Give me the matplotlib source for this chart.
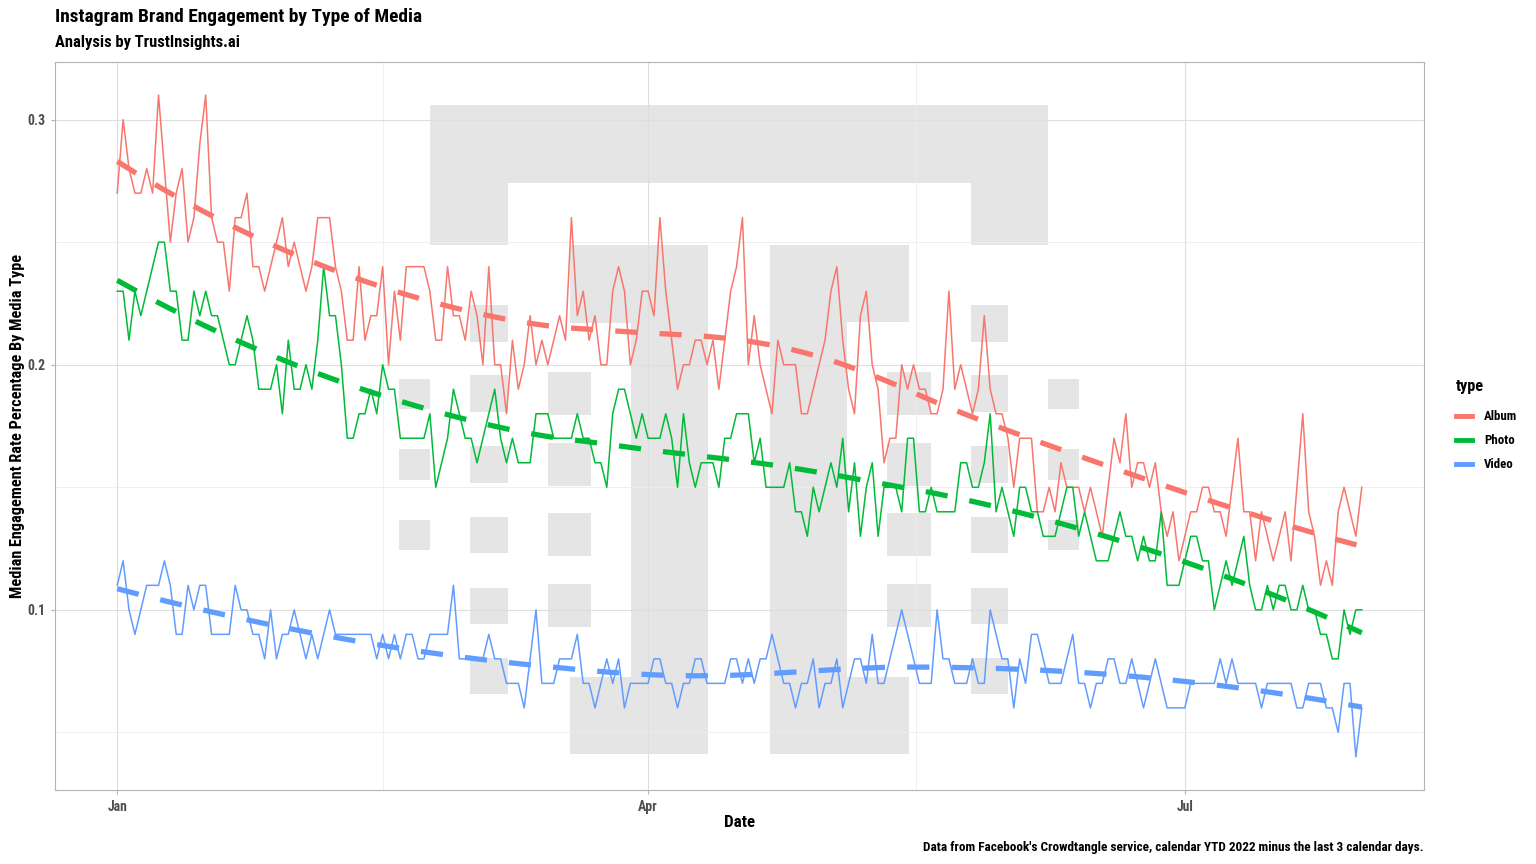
import numpy as np
import pandas as pd
import matplotlib
matplotlib.use('Agg')
import matplotlib.pyplot as plt
import matplotlib.dates as mdates
from matplotlib.lines import Line2D
from matplotlib.patches import Rectangle

plt.rcParams['font.family'] = ['Roboto Condensed', 'DejaVu Sans Condensed',
                               'Liberation Sans Narrow', 'Roboto', 'DejaVu Sans']

# daily medians, 2022-01-01 .. 2022-07-31
dates = pd.date_range('2022-01-01', '2022-07-31', freq='D')

album = [
    .27, .30, .28, .27, .27, .28, .27, .31, .28, .25, .27, .28, .25, .26, .29, .31, .26, .25, .25, .23,
    .26, .26, .27, .24, .24, .23, .24, .25, .26, .24, .25, .24, .23, .24, .26, .26, .26, .24, .23, .21,
    .21, .24, .21, .22, .22, .24, .20, .23, .21, .24, .24, .24, .24, .23, .21, .21, .24, .22, .22, .21,
    .23, .22, .20, .24, .20, .20, .18, .21, .19, .20, .22, .20, .21, .20, .21, .22, .21, .26, .22, .23,
    .21, .22, .20, .20, .23, .24, .23, .20, .21, .23, .23, .22, .26, .23, .21, .19, .20, .20, .21, .21,
    .20, .21, .19, .21, .23, .24, .26, .20, .22, .20, .19, .18, .21, .20, .20, .20, .18, .18, .19, .20,
    .21, .23, .24, .21, .19, .18, .22, .23, .20, .19, .16, .17, .17, .20, .19, .20, .19, .19, .18, .18,
    .19, .23, .19, .20, .19, .18, .19, .22, .19, .18, .18, .17, .15, .17, .17, .17, .14, .14, .15, .14,
    .16, .15, .15, .15, .14, .15, .14, .13, .15, .17, .16, .18, .15, .16, .16, .15, .16, .14, .13, .14,
    .12, .13, .14, .14, .15, .15, .14, .14, .13, .15, .17, .14, .14, .12, .14, .13, .12, .13, .14, .12,
    .15, .18, .14, .13, .11, .12, .11, .14, .15, .14, .13, .15,
]

photo = [
    .23, .23, .21, .23, .22, .23, .24, .25, .25, .23, .23, .21, .21, .23, .22, .23, .22, .22, .21, .20,
    .20, .21, .22, .21, .19, .19, .19, .20, .18, .21, .19, .19, .20, .19, .21, .24, .22, .22, .20, .17,
    .17, .18, .18, .19, .18, .20, .19, .19, .17, .17, .17, .17, .17, .18, .15, .16, .17, .19, .18, .17,
    .17, .16, .17, .18, .19, .17, .16, .17, .16, .16, .16, .18, .18, .18, .17, .17, .17, .17, .18, .17,
    .17, .16, .16, .15, .18, .19, .19, .18, .17, .18, .17, .17, .17, .18, .17, .15, .18, .16, .15, .16,
    .16, .16, .15, .17, .17, .18, .18, .18, .16, .17, .15, .15, .15, .15, .16, .14, .14, .13, .15, .14,
    .15, .16, .15, .17, .14, .16, .13, .15, .16, .13, .15, .15, .15, .14, .17, .17, .14, .14, .15, .14,
    .14, .14, .14, .16, .16, .15, .15, .16, .18, .14, .15, .14, .13, .15, .15, .14, .14, .13, .13, .13,
    .14, .15, .15, .13, .14, .13, .12, .12, .12, .13, .14, .13, .13, .12, .13, .12, .12, .14, .11, .11,
    .11, .12, .13, .13, .12, .12, .10, .11, .12, .11, .12, .13, .11, .10, .10, .11, .10, .11, .11, .10,
    .10, .11, .10, .10, .09, .09, .08, .08, .10, .09, .10, .10,
]

video = [
    .11, .12, .10, .09, .10, .11, .11, .11, .12, .11, .09, .09, .11, .10, .11, .11, .09, .09, .09, .09,
    .11, .10, .10, .09, .09, .08, .10, .08, .09, .09, .10, .09, .08, .09, .08, .09, .10, .09, .09, .09,
    .09, .09, .09, .09, .08, .09, .08, .09, .08, .09, .09, .08, .08, .09, .09, .09, .09, .11, .08, .08,
    .08, .08, .08, .09, .08, .08, .07, .07, .07, .06, .08, .10, .07, .07, .07, .08, .08, .08, .09, .07,
    .07, .06, .07, .08, .07, .08, .06, .07, .07, .07, .07, .08, .08, .07, .07, .06, .07, .07, .08, .08,
    .07, .07, .07, .07, .08, .08, .07, .08, .07, .08, .08, .09, .08, .07, .07, .06, .07, .07, .08, .06,
    .07, .07, .08, .06, .07, .08, .08, .07, .09, .07, .07, .08, .09, .10, .09, .08, .07, .07, .07, .10,
    .08, .08, .07, .07, .07, .08, .07, .07, .10, .09, .08, .08, .06, .08, .07, .09, .09, .08, .07, .07,
    .07, .08, .09, .07, .07, .06, .07, .07, .08, .08, .07, .07, .08, .07, .06, .07, .08, .07, .06, .06,
    .06, .06, .07, .07, .07, .07, .07, .08, .07, .08, .07, .07, .07, .07, .06, .07, .07, .07, .07, .07,
    .06, .06, .07, .07, .07, .06, .06, .05, .07, .07, .04, .06,
]

types = ['Album', 'Photo', 'Video']
colors = ['#F8766D', '#00BA38', '#619CFF']

title = 'Instagram Brand Engagement by Type of Media'
subtitle = 'Analysis by TrustInsights.ai'
caption = "Data from Facebook's Crowdtangle service, calendar YTD 2022 minus the last 3 calendar days."

# watermark logo blocks, figure pixels (x0, y0, x1, y1), y from top
logo = [
    (430, 105, 1048, 183), (430, 183, 508, 245), (971, 183, 1048, 245),
    (631, 245, 708, 754), (570, 245, 631, 323), (570, 677, 631, 754),
    (770, 245, 847, 754), (847, 245, 909, 322), (847, 677, 909, 754),
]
for ys in [(379, 409), (449, 480), (520, 550)]:
    logo.append((399, ys[0], 430, ys[1]))
    logo.append((1048, ys[0], 1079, ys[1]))
for ys in [(305, 342), (375, 412), (446, 483), (517, 553), (588, 624), (658, 694)]:
    logo.append((470, ys[0], 508, ys[1]))
    logo.append((971, ys[0], 1008, ys[1]))
for ys in [(372, 415), (443, 486), (513, 556), (584, 627)]:
    logo.append((548, ys[0], 591, ys[1]))
    logo.append((887, ys[0], 931, ys[1]))


def loess(x, y, span=0.75):
    # local quadratic fit with tricube weights, like R's loess defaults
    x = np.asarray(x, float)
    y = np.asarray(y, float)
    q = int(np.floor(len(x) * span))
    fit = np.empty_like(x)
    for i, x0 in enumerate(x):
        d = np.abs(x - x0)
        h = np.sort(d)[q - 1]
        w = np.clip(1 - (d / h) ** 3, 0, None) ** 3
        X = np.column_stack([np.ones_like(x), x - x0, (x - x0) ** 2])
        sw = np.sqrt(w)
        beta = np.linalg.lstsq(X * sw[:, None], y * sw, rcond=None)[0]
        fit[i] = beta[0]
    return fit


W, H = 1536, 864
fig = plt.figure(figsize=(15.36, 8.64), dpi=100)
ax = fig.add_axes([55 / W, 1 - 790 / H, (1424 - 55) / W, (790 - 62) / H])
r = fig.canvas.get_renderer()


def fitted_size(s, width, size=12):
    # font size at which the text s spans `width` pixels
    t = fig.text(0, 0, s, fontsize=size, fontweight='bold')
    bb = t.get_window_extent(r)
    t.remove()
    return size * width / bb.width


for x0, y0, x1, y1 in logo:
    ax.add_patch(Rectangle((x0 / W, 1 - y1 / H), (x1 - x0) / W, (y1 - y0) / H,
                           transform=fig.transFigure, facecolor='#E5E5E5',
                           edgecolor='none', zorder=0.5))

days = np.arange(len(dates))
series = [album, photo, video]
for vals, c in zip(series, colors):
    ax.plot(dates, vals, color=c, lw=1.1, zorder=3)
for vals, c in zip(series, colors):
    ax.plot(dates, loess(days, vals), color=c, lw=3.8, dashes=(4.2, 4.2),
            dash_capstyle='butt', zorder=4)

ax.margins(x=0.05, y=0.05)

jan, apr, jul = [mdates.date2num(pd.Timestamp(s)) for s in ['2022-01-01', '2022-04-01', '2022-07-01']]
ax.xaxis.set_major_locator(matplotlib.ticker.FixedLocator([jan, apr, jul]))
ax.xaxis.set_minor_locator(matplotlib.ticker.FixedLocator([(jan + apr) / 2, (apr + jul) / 2]))
ax.xaxis.set_major_formatter(mdates.DateFormatter('%b'))
ax.yaxis.set_major_locator(matplotlib.ticker.FixedLocator([0.1, 0.2, 0.3]))
ax.yaxis.set_minor_locator(matplotlib.ticker.FixedLocator([0.05, 0.15, 0.25]))
ax.yaxis.set_major_formatter(matplotlib.ticker.FuncFormatter(lambda v, p: f'{v:g}'))

ax.grid(which='major', color='#DEDEDE', lw=0.8, zorder=1)
ax.grid(which='minor', color='#EDEDED', lw=0.6, zorder=1)
ax.set_axisbelow(True)
for s in ax.spines.values():
    s.set_color('#B3B3B3')
    s.set_linewidth(0.8)
ax.tick_params(which='major', length=3, color='#B3B3B3',
               labelsize=fitted_size('Jan', 20), labelcolor='#4D4D4D', pad=4)
ax.tick_params(which='minor', length=0)
for lab in ax.get_xticklabels() + ax.get_yticklabels():
    lab.set_fontweight('bold')

ylab = 'Median Engagement Rate Percentage By Media Type'
ax.set_xlabel('Date', fontsize=fitted_size('Date', 31), fontweight='bold')
ax.xaxis.set_label_coords(0.5, -(815 - 790) / 728)
ax.set_ylabel(ylab, fontsize=fitted_size(ylab, 344), fontweight='bold')
ax.yaxis.set_label_coords(-(55 - 25) / 1369, 0.5)

fig.text(55 / W, 1 - 17 / H, title, fontsize=fitted_size(title, 366),
         fontweight='bold', va='center')
fig.text(55 / W, 1 - 43 / H, subtitle, fontsize=fitted_size(subtitle, 185),
         fontweight='bold', va='center')
fig.text(1424 / W, 1 - 847 / H, caption, fontsize=fitted_size(caption, 503),
         fontweight='bold', va='center', ha='right')

handles = [Line2D([], [], color=c, lw=3.5) for c in colors]
leg = fig.legend(handles, types, title='type', loc='center left',
                 bbox_to_anchor=(1444 / W, 1 - 425 / H), frameon=False,
                 prop={'size': fitted_size('Album', 33), 'weight': 'bold'},
                 title_fontproperties={'size': fitted_size('type', 28), 'weight': 'bold'},
                 handlelength=1.3, handletextpad=0.9, labelspacing=0.85)
leg._legend_box.align = 'left'
leg._legend_box.sep = 12

fig.savefig('out.png', dpi=100)
